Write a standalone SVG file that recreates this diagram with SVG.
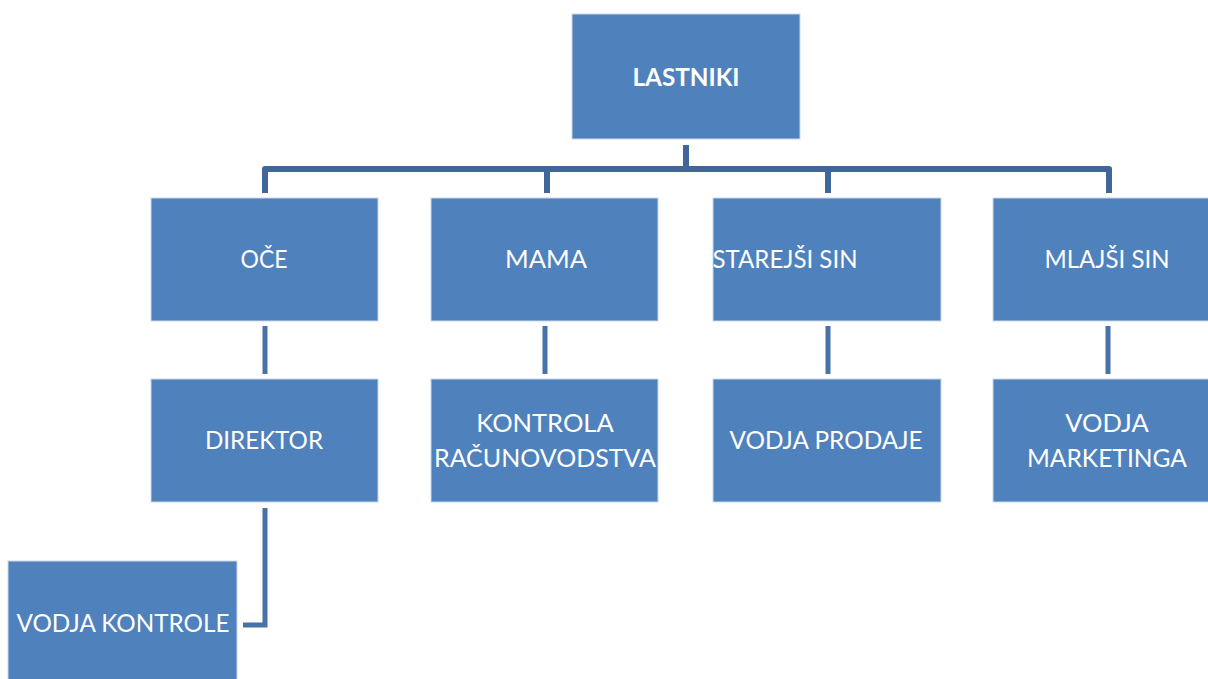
<svg xmlns="http://www.w3.org/2000/svg" width="1208" height="679" viewBox="0 0 1208 679">
<style>
.box{fill:#4f81bd;stroke:#c9d7ea;stroke-width:1}
.t{fill:#ffffff;font-family:Lato,"Open Sans","Liberation Sans",sans-serif;font-size:25.5px;text-anchor:middle}
.b{font-weight:bold}
.c{fill:none;stroke:#41679a;stroke-width:6;stroke-linejoin:round}
.c2{fill:none;stroke:#4672a8;stroke-width:5}
</style>
<rect width="1208" height="679" fill="#ffffff"/>
<g id="connectors">
<path class="c" d="M686 145 V169 M265 193 V169 H1109 V193 M547 169 V193 M828 169 V193"/>
<path class="c2" d="M265 326 V374 M545 326 V374 M828 326 V374 M1108 326 V374"/>
<path class="c2" d="M265 508 V625 H243"/>
</g>
<g id="lastniki"><rect class="box" x="572" y="14" width="228" height="125"/><text class="t b" x="686" y="86" textLength="107" lengthAdjust="spacingAndGlyphs">LASTNIKI</text></g>
<g id="oce"><rect class="box" x="151" y="198" width="227" height="123"/><text class="t" x="264" y="268" textLength="47" lengthAdjust="spacingAndGlyphs">OČE</text></g>
<g id="mama"><rect class="box" x="431" y="198" width="227" height="123"/><text class="t" x="546" y="268" textLength="82" lengthAdjust="spacingAndGlyphs">MAMA</text></g>
<g id="starejsi"><rect class="box" x="713" y="198" width="228" height="123"/><text class="t" x="785" y="268" textLength="145" lengthAdjust="spacingAndGlyphs">STAREJŠI SIN</text></g>
<g id="mlajsi"><rect class="box" x="993" y="198" width="227" height="123"/><text class="t" x="1107" y="268" textLength="125" lengthAdjust="spacingAndGlyphs">MLAJŠI SIN</text></g>
<g id="direktor"><rect class="box" x="151" y="379" width="227" height="123"/><text class="t" x="264" y="449" textLength="118" lengthAdjust="spacingAndGlyphs">DIREKTOR</text></g>
<g id="kontrola"><rect class="box" x="431" y="379" width="227" height="123"/><text class="t" x="545" y="432">KONTROLA</text><text class="t" x="545" y="467" textLength="222" lengthAdjust="spacingAndGlyphs">RAČUNOVODSTVA</text></g>
<g id="prodaje"><rect class="box" x="713" y="379" width="228" height="123"/><text class="t" x="826" y="449" textLength="193" lengthAdjust="spacingAndGlyphs">VODJA PRODAJE</text></g>
<g id="marketinga"><rect class="box" x="993" y="379" width="227" height="123"/><text class="t" x="1107" y="432">VODJA</text><text class="t" x="1107" y="467" textLength="160" lengthAdjust="spacingAndGlyphs">MARKETINGA</text></g>
<g id="vodjakontrole"><rect class="box" x="8" y="561" width="229" height="124"/><text class="t" x="123" y="632" textLength="213" lengthAdjust="spacingAndGlyphs">VODJA KONTROLE</text></g>
</svg>
